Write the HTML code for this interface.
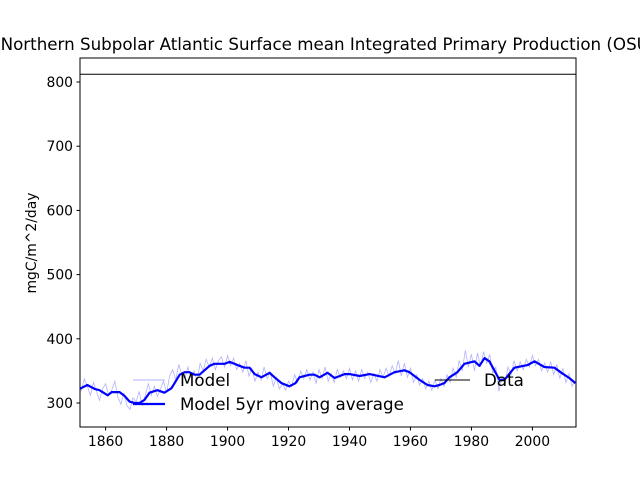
<!DOCTYPE html>
<html><head><meta charset="utf-8"><style>
html,body{margin:0;padding:0;background:#fff;}
svg{display:block;font-family:"DejaVu Sans","Liberation Sans",sans-serif;}
</style></head><body>
<svg id="chart" width="640" height="480" xmlns="http://www.w3.org/2000/svg"></svg>
<script>
const smoothYears=[1851.5,1854,1856.4,1858,1860.7,1862,1864.6,1866.2,1867.9,1869.5,1871.1,1872.8,1874.4,1877,1879.3,1881.6,1884.3,1885.9,1887.5,1889.2,1890.8,1894.1,1895.7,1899,1900.7,1903.9,1905.6,1907.2,1908.9,1911.1,1913.8,1915.4,1917.7,1920.3,1922.3,1923.6,1926.9,1928.5,1930.2,1932.8,1935.1,1938.4,1940,1943.3,1946.6,1951.5,1954.8,1958,1959.7,1963,1965.6,1967.9,1969.5,1971.1,1972.8,1975.4,1977.7,1981,1982.6,1984.3,1985.9,1989.2,1990.8,1994.1,1998.4,2000.7,2003.9,2007.2,2009.5,2012.1,2014.1];
const smoothVals=[322,328,322,320,312,317,317,311,302,300,300,305,316,320,316,323,344,348,348,344,344,358,361,361,364,358,355,355,345,340,347,340,331,326,331,340,344,344,340,347,339,345,345,342,345,340,348,351,348,336,328,326,328,331,340,348,361,365,358,370,365,336,336,355,359,365,356,355,347,339,331];
const rawStart=1852;
const rawVals=[
/*1852*/ 318,338,326,312,332,318,304,322,330,312,
/*1862*/ 320,334,310,298,316,296,290,308,302,318,
/*1872*/ 296,312,330,312,326,310,322,334,316,342,
/*1882*/ 352,336,360,344,338,356,340,350,334,362,
/*1892*/ 350,368,356,370,352,366,372,356,374,358,
/*1902*/ 370,352,362,348,366,342,354,334,348,336,
/*1912*/ 356,338,348,326,340,322,330,320,334,326,
/*1922*/ 344,332,350,338,352,336,348,330,352,338,
/*1932*/ 356,334,346,332,352,340,350,338,354,336,
/*1942*/ 350,334,352,338,348,332,346,334,352,340,
/*1952*/ 354,342,358,346,366,342,362,340,354,332,
/*1962*/ 344,328,338,322,334,320,336,322,338,326,
/*1972*/ 344,332,354,340,366,350,382,356,376,350,
/*1982*/ 378,356,380,362,376,346,356,318,340,332,
/*1992*/ 356,344,366,350,364,352,368,356,374,358,
/*2002*/ 368,350,362,348,364,344,360,338,354,332,
/*2012*/ 346,326,334];
const dataVal=812;
const yTicks=[300,400,500,600,700,800];
const xTicks=[1860,1880,1900,1920,1940,1960,1980,2000];

const NS="http://www.w3.org/2000/svg";
const svg=document.getElementById('chart');
const L=80,R=576,T=58,B=427;
const x0=1851.6,x1=2014.3,y0=262.6,y1=837.4;
const X=v=>L+(v-x0)/(x1-x0)*(R-L);
const Y=v=>B-(v-y0)/(y1-y0)*(B-T);
function mk(tag,attrs,parent){const e=document.createElementNS(NS,tag);for(const k in attrs)e.setAttribute(k,attrs[k]);(parent||svg).appendChild(e);return e;}

const title=mk('text',{x:328,y:50,'text-anchor':'middle','font-size':'16.7',fill:'#000'});


title.textContent='Northern Subpolar Atlantic Surface mean Integrated Primary Production (OSU)';

const cp=mk('clipPath',{id:'clip'});mk('rect',{x:L,y:T,width:R-L,height:B-T},cp);
const plot=mk('g',{'clip-path':'url(#clip)'});



const dl=mk('line',{x1:L,x2:R,y1:Y(dataVal),y2:Y(dataVal),stroke:'#000','stroke-width':1},plot);



let pr=rawVals.map((v,i)=>X(rawStart+i).toFixed(1)+','+Y(v).toFixed(1)).join(' ');
const rl=mk('polyline',{points:pr,fill:'none',stroke:'#0000ff','stroke-opacity':0.3,'stroke-width':0.8},plot);



let ps=smoothVals.map((v,i)=>X(smoothYears[i]).toFixed(1)+','+Y(v).toFixed(1)).join(' ');
const sl=mk('polyline',{points:ps,fill:'none',stroke:'#0000ff','stroke-width':2.2,'stroke-linejoin':'round'},plot);



const frame=mk('rect',{x:L,y:T,width:R-L,height:B-T,fill:'none',stroke:'#000','stroke-width':1});



yTicks.forEach(v=>{
  const g=mk('g',{});
  
  
  mk('line',{x1:L-3.5,x2:L,y1:Y(v),y2:Y(v),stroke:'#000'},g);
  const t=mk('text',{x:L-7,y:Y(v)+5,'text-anchor':'end','font-size':'13.9'},g);t.textContent=v;
});
xTicks.forEach(v=>{
  const g=mk('g',{});
  
  
  mk('line',{x1:X(v),x2:X(v),y1:B,y2:B+3.5,stroke:'#000'},g);
  const t=mk('text',{x:X(v),y:B+19,'text-anchor':'middle','font-size':'13.9'},g);t.textContent=v;
});
const yl=mk('text',{x:36,y:243,'text-anchor':'middle','font-size':'13.9',transform:'rotate(-90 36 243)'});


yl.textContent='mgC/m^2/day';

function leg(name,x1,x2,y,stroke,w,op,label,tx){
  const g=mk('g',{});
  
  
  mk('line',{x1:x1,x2:x2,y1:y,y2:y,stroke:stroke,'stroke-width':w,'stroke-opacity':op},g);
  const t=mk('text',{x:tx,y:y+6,'font-size':'16.7'},g);t.textContent=label;
}
leg('legend-model',133,165,380,'#0000ff',1,0.3,'Model',180);
leg('legend-model-5yr',133,165,404,'#0000ff',2.2,1,'Model 5yr moving average',180);
leg('legend-data',435,470,380,'#000',1,1,'Data',484);
</script>
</body></html>
